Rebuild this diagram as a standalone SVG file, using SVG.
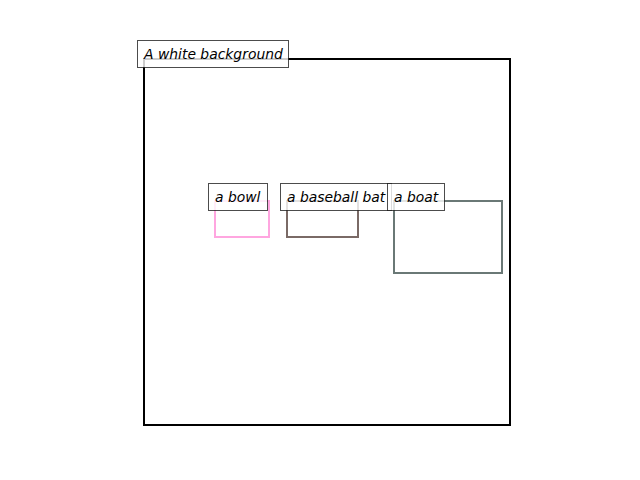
<svg xmlns="http://www.w3.org/2000/svg" width="640" height="480" viewBox="0 0 640 480">
<style>
.lbl rect{fill:#fff;fill-opacity:0.8;stroke:#000;stroke-opacity:0.7;stroke-width:1}
.lbl text{font-family:"DejaVu Sans",sans-serif;font-style:oblique;font-size:13.9px;fill:#000}
.box{fill:none;stroke-width:2}
</style>
<rect width="640" height="480" fill="#fff"/>
<g id="background">
<rect class="box" x="144" y="59" width="366" height="366" stroke="#000"/>
</g>
<g id="bowl">
<rect class="box" x="215" y="201" width="54" height="36" stroke="#ffa6e0"/>
</g>
<g id="bat">
<rect class="box" x="287" y="201" width="71" height="36" stroke="#7a6a66"/>
</g>
<g id="boat">
<rect class="box" x="394" y="201" width="108" height="72" stroke="#6a7876"/>
</g>
<g id="labels">
<g class="lbl" id="lbl-background"><rect x="137.5" y="40.5" width="151" height="27"/><text x="144" y="58.5">A white background</text></g>
<g class="lbl" id="lbl-bowl"><rect x="208.5" y="183.5" width="59" height="27"/><text x="215" y="201.5">a bowl</text></g>
<g class="lbl" id="lbl-bat"><rect x="280.5" y="183.5" width="111" height="27"/><text x="287" y="201.5">a baseball bat</text></g>
<g class="lbl" id="lbl-boat"><rect x="387.5" y="183.5" width="57" height="27"/><text x="394" y="201.5">a boat</text></g>
</g>
<g id="connectors"></g>
</svg>
